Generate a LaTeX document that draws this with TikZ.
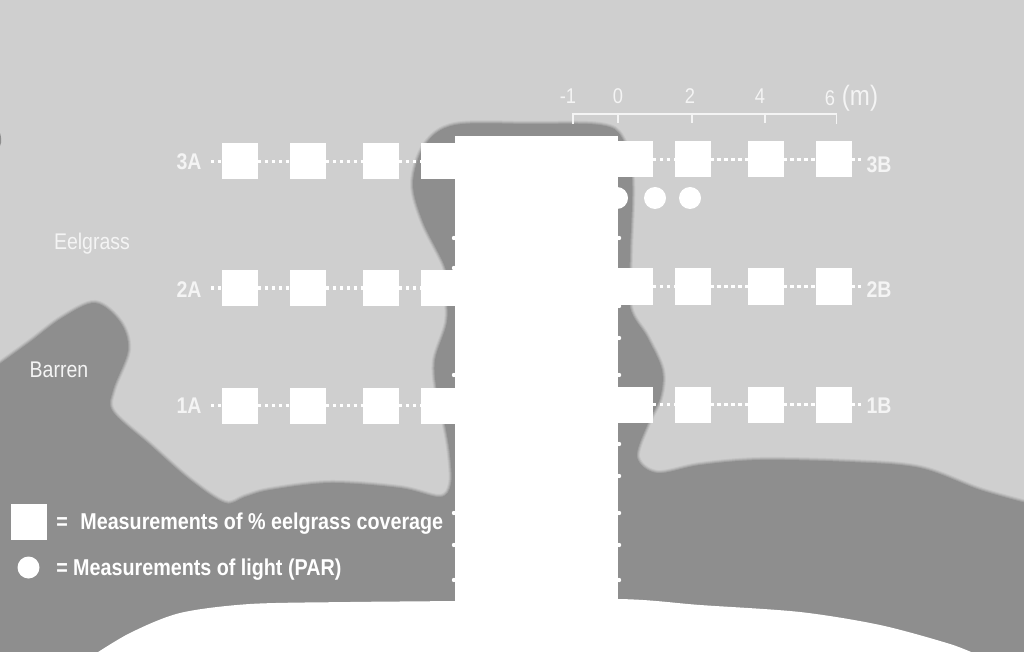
\documentclass[tikz,border=0pt]{standalone}
\usepackage{fontspec}
\setmainfont{Liberation Sans}
\newfontfamily\condf[FakeStretch=0.86]{Liberation Sans}
\definecolor{lightbg}{HTML}{CFCFCF}
\definecolor{darkbg}{HTML}{8E8E8E}
\definecolor{edgea}{HTML}{C4C4C4}
\definecolor{edgeb}{HTML}{B4B4B4}
\definecolor{edgec}{HTML}{A2A2A2}
\definecolor{softw}{HTML}{F4F4F4}
\tikzset{
  plotbox/.style={fill=white,draw=none,minimum size=27pt,inner sep=0pt,outer sep=0pt},
  lightdot/.style={fill=white,draw=none,circle,minimum size=16.5pt,inner sep=0pt},
  transect/.style={white,line width=2.6pt,dash pattern=on 2.6pt off 2.6pt},
  rowlabel/.style={text=softw,font=\condf\bfseries\fontsize{17}{17}\selectfont,inner sep=0pt},
  zonelabel/.style={text=softw,font=\condf\fontsize{17}{17}\selectfont,inner sep=0pt},
  scalelabel/.style={text=softw,font=\condf\fontsize{16}{16}\selectfont,inner sep=0pt},
  legendlabel/.style={text=white,font=\condf\bfseries\fontsize{17.2}{17}\selectfont,inner sep=0pt,anchor=west},
  scaleline/.style={softw,line width=1.4pt},
}
\begin{document}
\begin{tikzpicture}[x=0.75pt,y=-0.75pt]
\useasboundingbox (0,0) rectangle (1024,652);
\clip (0,0) rectangle (1024,652);
\fill[lightbg] (0,0) rectangle (1024,652);
% barren area outline
\def\barren{plot[smooth,tension=0.55] coordinates {(-6,368) (30,342) (62,318) (95,303) (120,322) (128,350) (113,390) (113,412) (150,445) (190,480) (225,503) (245,497) (270,490) (330,483) (400,488) (440,497) (451,484) (450,455) (445,425) (437,392) (435,360) (447,322) (446,290) (445,267) (423,222) (413,183) (425,145) (455,125) (530,124) (600,125) (622,138) (632,180) (630,253) (630,307) (647,337) (662,370) (660,398) (648,423) (637,457) (657,473) (700,465) (760,460) (850,462) (920,468) (980,490) (1030,504)} -- (1030,660) -- (-6,660) -- cycle}
\draw[edgea,line width=4.5pt] \barren;
\draw[edgeb,line width=3pt] \barren;
\draw[edgec,line width=1.5pt] \barren;
\fill[darkbg] \barren;
% small patch on the left edge
\fill[darkbg] (-4,126) .. controls (0,130) and (2,138) .. (1,143) .. controls (0,147) and (-2,149) .. (-4,150) -- cycle;
% shore
\fill[white] plot[smooth,tension=0.5] coordinates {(92,656) (130,633) (180,613) (250,604) (350,602) (455,601) (618,599) (700,605) (800,612) (880,625) (950,644) (980,656)} -- cycle;
% dock
\fill[white] (455,136) rectangle (618,604);
\foreach \px/\py in {454/238,454/268,454/375,454/513,454/545,454/580,619/238,619/306,619/338,619/375,619/444,619/476,619/513,619/545,619/580}
  \fill[white] (\px,\py) circle (2.2);
% light points
\node[lightdot] (c0) at (617,198) {};
\node[lightdot] (c1) at (655,198) {};
\node[lightdot] (c2) at (690,198) {};
\fill[white] (455,180) rectangle (618,230);
% plots
\foreach \r/\ya/\yb in {3/161.5/159.5,2/288/286.5,1/405.5/404.5}{
  \node[plotbox] (p\r a1) at (240,\ya) {};
  \node[plotbox] (p\r a2) at (308,\ya) {};
  \node[plotbox] (p\r a3) at (381,\ya) {};
  \node[plotbox] (p\r a4) at (438.5,\ya) {};
  \node[plotbox] (p\r b1) at (635,\yb) {};
  \node[plotbox] (p\r b2) at (692.5,\yb) {};
  \node[plotbox] (p\r b3) at (765.5,\yb) {};
  \node[plotbox] (p\r b4) at (833.5,\yb) {};
  \coordinate (e\r a) at (211,\ya);
  \coordinate (e\r b) at (861,\yb);
  \draw[transect] (e\r a) -- (p\r a1.west);
  \draw[transect] (p\r a1.east) -- (p\r a2.west);
  \draw[transect] (p\r a2.east) -- (p\r a3.west);
  \draw[transect] (p\r a3.east) -- (p\r a4.west);
  \draw[transect] (p\r b1.east) -- (p\r b2.west);
  \draw[transect] (p\r b2.east) -- (p\r b3.west);
  \draw[transect] (p\r b3.east) -- (p\r b4.west);
  \draw[transect] (p\r b4.east) -- (e\r b);
}
% row labels
\node[rowlabel] (l3a) at (189,162) {3A};
\node[rowlabel] (l2a) at (189,290) {2A};
\node[rowlabel] (l1a) at (189,406) {1A};
\node[rowlabel] (l3b) at (879,165) {3B};
\node[rowlabel] (l2b) at (879,290) {2B};
\node[rowlabel] (l1b) at (879,406) {1B};
% zones
\node[zonelabel] (eel) at (92,244) {Eelgrass};
\node[zonelabel] (bar) at (59,370) {Barren};
% scale
\coordinate (s0) at (573,114);
\coordinate (s1) at (618,114);
\coordinate (s2) at (692,114);
\coordinate (s3) at (765,114);
\coordinate (s4) at (836.5,114);
\draw[scaleline] ([yshift=-7.5pt]s0) -- (s0) -- (s4) -- ([yshift=-7.5pt]s4);
\draw[scaleline,line width=1.1pt] (s1) -- ([yshift=-7pt]s1);
\draw[scaleline,line width=1.1pt] (s2) -- ([yshift=-7pt]s2);
\draw[scaleline,line width=1.1pt] (s3) -- ([yshift=-7pt]s3);
\node[scalelabel] (t0) at (568,96) {-1};
\node[scalelabel] (t1) at (618,96) {0};
\node[scalelabel] (t2) at (690,96) {2};
\node[scalelabel] (t3) at (760,96) {4};
\node[scalelabel] (t4) at (830,98) {6};
\node[scalelabel,font=\condf\fontsize{21}{22}\selectfont] (unit) at (860,98) {(m)};
% legend
\node[plotbox] (lgs) at (28.5,522) {};
\node[lightdot] (lgc) at (28.5,567.5) {};
\node[legendlabel] (lgst) at (56,523.5) {=\hspace{0.55em}Measurements of \% eelgrass coverage};
\node[legendlabel] (lgct) at (56,569.5) {= Measurements of light (PAR)};
\end{tikzpicture}
\end{document}
